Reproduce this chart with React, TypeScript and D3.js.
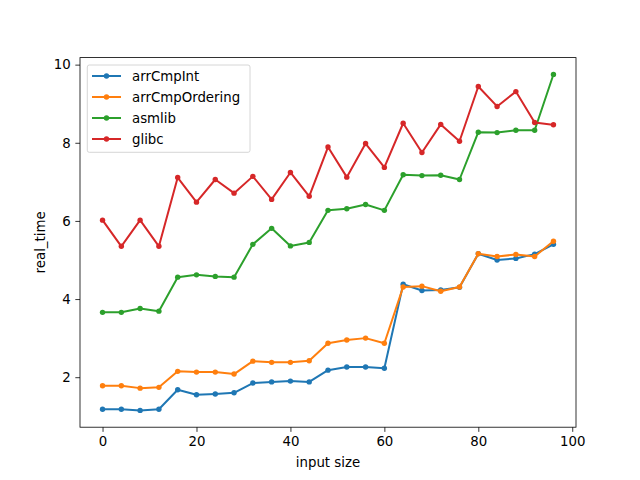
import React, {useEffect, useRef} from "react";
import * as d3 from 'd3';

const WIDTH = 640;
const HEIGHT = 480;
const M = {left: 80, right: 64, top: 57.6, bottom: 52.8};

const inputSizes = [0, 4, 8, 12, 16, 20, 24, 28, 32, 36, 40, 44, 48, 52, 56, 60, 64, 68, 72, 76, 80, 84, 88, 92, 96];

const arrCmpInt = [1.18, 1.18, 1.15, 1.18, 1.68, 1.55, 1.57, 1.60, 1.85, 1.88, 1.90, 1.88, 2.18,
    2.26, 2.26, 2.23, 4.38, 4.22, 4.23, 4.30, 5.16, 5.00, 5.04, 5.15, 5.40];
const arrCmpOrdering = [1.78, 1.78, 1.72, 1.74, 2.15, 2.13, 2.13, 2.08, 2.41, 2.38, 2.38, 2.42, 2.87,
    2.95, 3.00, 2.87, 4.31, 4.33, 4.20, 4.31, 5.16, 5.09, 5.14, 5.09, 5.48];
const asmlib = [3.66, 3.66, 3.76, 3.69, 4.56, 4.62, 4.58, 4.56, 5.40, 5.81, 5.36, 5.45, 6.27,
    6.31, 6.42, 6.27, 7.18, 7.16, 7.17, 7.06, 8.27, 8.26, 8.32, 8.32, 9.75];
const glibc = [6.02, 5.35, 6.02, 5.35, 7.11, 6.48, 7.06, 6.71, 7.14, 6.55, 7.24, 6.63, 7.89,
    7.12, 7.98, 7.37, 8.50, 7.75, 8.47, 8.04, 9.44, 8.93, 9.31, 8.52, 8.46];

const seriesNames = ["arrCmpInt", "arrCmpOrdering", "asmlib", "glibc"];
const seriesValues = [arrCmpInt, arrCmpOrdering, asmlib, glibc];
const seriesColors = ["#1f77b4", "#ff7f0e", "#2ca02c", "#d62728"];

const xTicks = [0, 20, 40, 60, 80, 100];
const yTicks = [2, 4, 6, 8, 10];

const FONT = "DejaVu Sans, sans-serif";
const MARKER_R = 2.7;

export default function App() {
    const ref = useRef(null);

    useEffect(() => {
        const svg = d3.select(ref.current);
        svg.selectAll('*').remove();

        const allY = seriesValues.flat();
        const minY = d3.min(allY)!;
        const maxY = d3.max(allY)!;
        const yPad = (maxY - minY) * 0.05;
        const xPad = (96 - 0) * 0.05;

        const x = d3.scaleLinear()
            .domain([0 - xPad, 96 + xPad])
            .range([M.left, WIDTH - M.right]);
        const y = d3.scaleLinear()
            .domain([minY - yPad, maxY + yPad])
            .range([HEIGHT - M.bottom, M.top]);

        const plotG = svg.append('g');
        const line = d3.line<number>()
            .x((_, i) => x(inputSizes[i]))
            .y(d => y(d));

        seriesValues.forEach((vals, si) => {
            plotG.append('path')
                .datum(vals)
                .attr('d', line)
                .attr('fill', 'none')
                .attr('stroke', seriesColors[si])
                .attr('stroke-width', 2)
                .attr('stroke-linejoin', 'round')
                .attr('stroke-linecap', 'square');
            plotG.selectAll(null)
                .data(vals)
                .enter()
                .append('circle')
                .attr('cx', (_, i) => x(inputSizes[i]))
                .attr('cy', d => y(d))
                .attr('r', MARKER_R)
                .attr('fill', seriesColors[si]);
        });

        const xAxis = d3.axisBottom(x).tickValues(xTicks).tickSize(4.67).tickPadding(4.67);
        const yAxis = d3.axisLeft(y).tickValues(yTicks).tickSize(4.67).tickPadding(4.67);

        const xAxisG = svg.append('g')
            .attr('transform', `translate(0,${HEIGHT - M.bottom})`)
            .call(xAxis);
        const yAxisG = svg.append('g')
            .attr('transform', `translate(${M.left},0)`)
            .call(yAxis);
        [xAxisG, yAxisG].forEach(g => {
            g.select('.domain').remove();
            g.selectAll('text').attr('font-family', FONT).attr('font-size', 13.33).attr('fill', '#000');
            g.selectAll('line').attr('stroke', '#000').attr('stroke-width', 0.8);
        });

        svg.append('rect')
            .attr('x', M.left)
            .attr('y', M.top)
            .attr('width', WIDTH - M.left - M.right)
            .attr('height', HEIGHT - M.top - M.bottom)
            .attr('fill', 'none')
            .attr('stroke', '#000')
            .attr('stroke-width', 0.8);

        svg.append('text')
            .attr('x', (M.left + WIDTH - M.right) / 2)
            .attr('y', 467)
            .attr('text-anchor', 'middle')
            .attr('font-family', FONT)
            .attr('font-size', 13.33)
            .text('input size');

        svg.append('text')
            .attr('transform', `translate(45,${(M.top + HEIGHT - M.bottom) / 2}) rotate(-90)`)
            .attr('text-anchor', 'middle')
            .attr('font-family', FONT)
            .attr('font-size', 13.33)
            .text('real_time');

        // legend
        const legend = svg.append('g');
        legend.append('rect')
            .attr('x', 87.3)
            .attr('y', 65)
            .attr('width', 162.7)
            .attr('height', 87.3)
            .attr('rx', 2)
            .attr('fill', 'white')
            .attr('fill-opacity', 0.8)
            .attr('stroke', '#cccccc')
            .attr('stroke-width', 0.8);
        seriesNames.forEach((name, i) => {
            const ly = 76 + i * 21;
            legend.append('line')
                .attr('x1', 92).attr('x2', 121)
                .attr('y1', ly).attr('y2', ly)
                .attr('stroke', seriesColors[i])
                .attr('stroke-width', 2);
            legend.append('circle')
                .attr('cx', 106.5).attr('cy', ly).attr('r', MARKER_R)
                .attr('fill', seriesColors[i]);
            legend.append('text')
                .attr('x', 132)
                .attr('y', ly)
                .attr('dy', '0.35em')
                .attr('font-family', FONT)
                .attr('font-size', 13.33)
                .text(name);
        });
    }, []);

    return (
        <svg ref={ref} width={WIDTH} height={HEIGHT} style={{position: 'absolute', left: 0, top: 0}}/>
    );
}
